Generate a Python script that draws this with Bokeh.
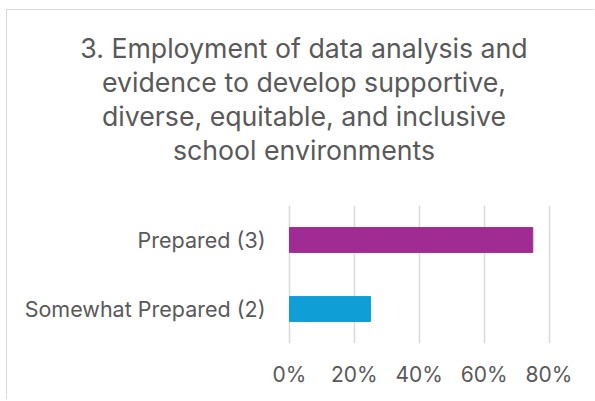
from bokeh.plotting import figure
from bokeh.models import Range1d, FixedTicker, ColumnDataSource, Title
from bokeh.core.properties import value
from bokeh.embed import file_html
from bokeh.resources import INLINE

# ---- data ----
categories = ["Somewhat Prepared (2)", "Prepared (3)"]
values = [0.25, 0.75]
bar_colors = ["#0F9ED5", "#A02B93"]
tick_values = [0, 0.2, 0.4, 0.6, 0.8]
tick_labels = ["0%", "20%", "40%", "60%", "80%"]
title_lines = [
    "3. Employment of data analysis and",
    "evidence to develop supportive,",
    "diverse, equitable, and inclusive",
    "school environments",
]

FONT = "Inter"
TEXT = "#595959"
GRID = "#d9d9d9"

# ---- layout (page pixels) ----
OX, OY = 7, 10            # content origin after margin + border
W, H = 588, 390
FR_L, FR_R, FR_T, FR_B = 13, 594, 205, 343
ZERO_X, PX_PER_UNIT = 289.0, 324.4
LABEL_RIGHT = 265.0

x0 = (FR_L - ZERO_X) / PX_PER_UNIT
x1 = (FR_R - ZERO_X) / PX_PER_UNIT

p = figure(width=W, height=H, y_range=categories, x_range=Range1d(x0, x1),
           output_backend="svg", toolbar_location=None, title=None,
           min_border_left=FR_L - OX, min_border_right=(OX + W) - FR_R,
           min_border_top=FR_T - OY, min_border_bottom=(OY + H) - FR_B)
p.margin = (9, 0, 0, 6)
p.styles = {"border-left": "1px solid #d9d9d9", "border-top": "1px solid #d9d9d9"}
p.outline_line_color = None
p.background_fill_color = "white"
p.border_fill_color = "white"

# title: one centred Title per line, stacked upward from the plot area
TITLE_SIZE = "26.7px"
p.add_layout(Title(text=" ", text_font=FONT, text_font_size=TITLE_SIZE,
                   standoff=6, align="center"), "above")   # gap below the title
for line in reversed(title_lines):
    p.add_layout(Title(text=line, align="center", text_font=FONT,
                       text_font_size=TITLE_SIZE, text_font_style="normal",
                       text_color=TEXT, standoff=0), "above")

src = ColumnDataSource(dict(cat=categories, val=values, color=bar_colors))
p.hbar(y="cat", right="val", left=0, height=0.36, color="color", source=src)

# category labels drawn through the scales
lab_x = (LABEL_RIGHT - ZERO_X) / PX_PER_UNIT
p.text(x=[lab_x] * len(categories), y=categories, text=categories,
       text_align="right", text_baseline="middle", text_font=value(FONT),
       text_font_size="21.5px", text_color=TEXT)

p.yaxis.visible = False
p.ygrid.grid_line_color = None

p.xaxis.ticker = FixedTicker(ticks=tick_values)
p.xaxis.major_label_overrides = {v: l for v, l in zip(tick_values, tick_labels)}
p.xgrid.ticker = FixedTicker(ticks=tick_values)
p.xgrid.grid_line_color = GRID
p.xgrid.grid_line_width = 1.5
p.xaxis.axis_line_color = None
p.xaxis.major_tick_line_color = None
p.xaxis.minor_tick_line_color = None
p.xaxis.major_label_text_font = FONT
p.xaxis.major_label_text_font_size = "21px"
p.xaxis.major_label_text_color = TEXT
p.xaxis.major_label_standoff = 12

open("out.html", "w").write(file_html(p, INLINE))
